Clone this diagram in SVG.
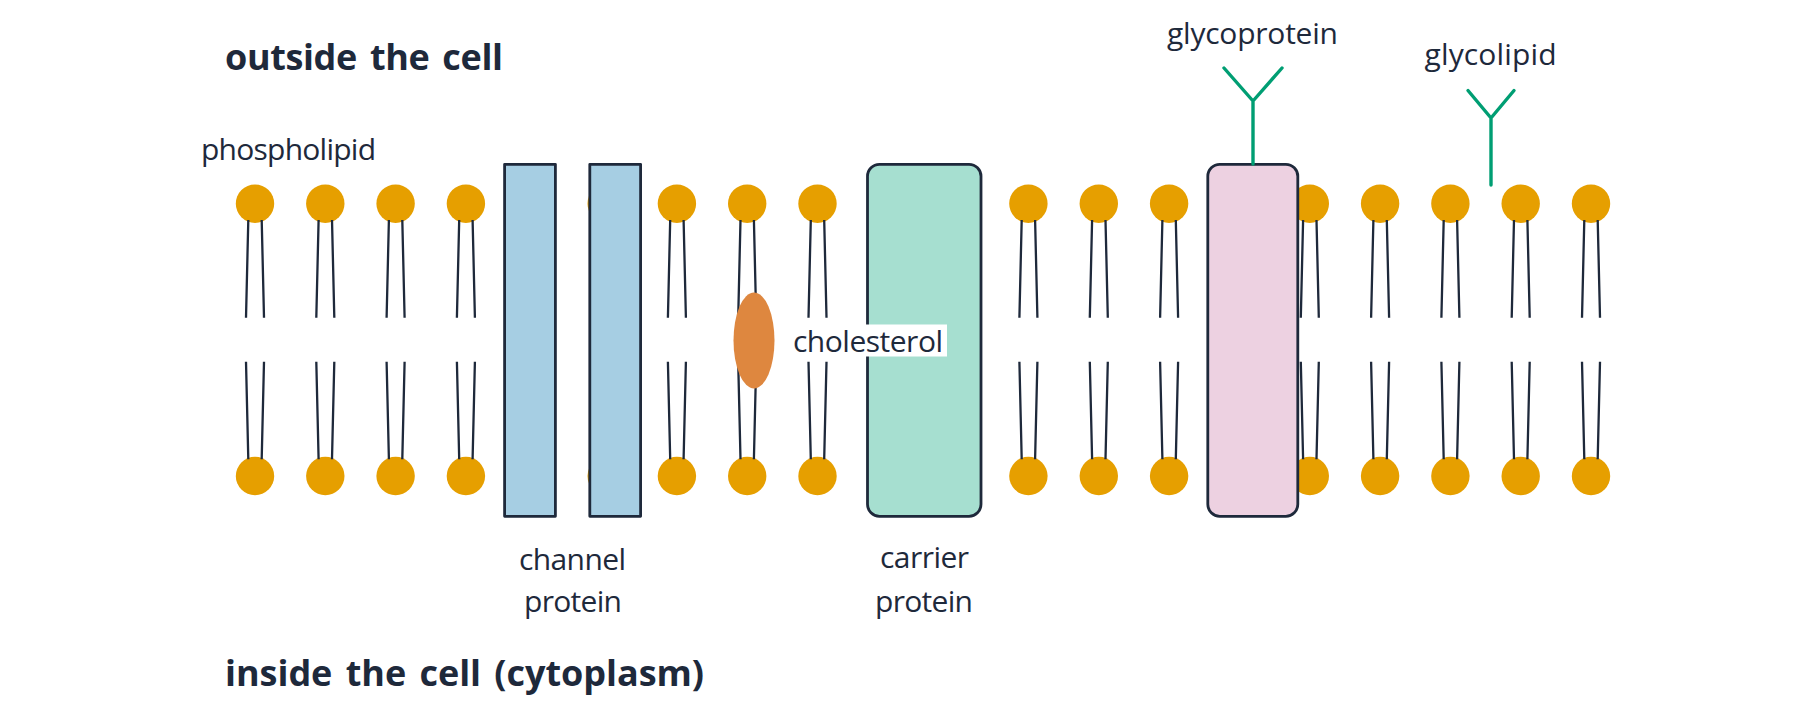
<svg xmlns="http://www.w3.org/2000/svg" width="1800" height="716" viewBox="0 0 1800 716">
<style>
text{font-family:"Open Sans","Noto Sans","Liberation Sans",sans-serif;fill:#1e293b;font-size:30px}
.title{font-weight:700;font-size:36px;word-spacing:4px}
.head{fill:#e69f00}
.tail{stroke:#1e293b;stroke-width:2.3;fill:none}
.prot{stroke:#1e293b;stroke-width:2.8;stroke-linejoin:round}
.sugar{stroke:#009e73;stroke-width:3.4;fill:none;stroke-linecap:round;stroke-linejoin:round}
</style>
<defs>
<g id="lipid">
<circle class="head" cx="0" cy="203.7" r="19.2"/>
<circle class="head" cx="0" cy="476" r="19.2"/>
<path class="tail" d="M-6.7 220L-9 317.7M6.7 220L9 317.7M-9 361.7L-6.7 459.3M9 361.7L6.7 459.3"/>
</g>
</defs>
<g id="membrane">
<g id="lipid-1" transform="translate(255,0)"><use href="#lipid"/></g>
<g id="lipid-2" transform="translate(325.3,0)"><use href="#lipid"/></g>
<g id="lipid-3" transform="translate(395.6,0)"><use href="#lipid"/></g>
<g id="lipid-4" transform="translate(465.9,0)"><use href="#lipid"/></g>
<g id="lipid-5" transform="translate(536.2,0)"><use href="#lipid"/></g>
<g id="lipid-6" transform="translate(606.7,0)"><use href="#lipid"/></g>
<g id="lipid-7" transform="translate(676.9,0)"><use href="#lipid"/></g>
<g id="lipid-8" transform="translate(747.2,0)"><use href="#lipid"/></g>
<g id="lipid-9" transform="translate(817.5,0)"><use href="#lipid"/></g>
<g id="lipid-10" transform="translate(887.8,0)"><use href="#lipid"/></g>
<g id="lipid-11" transform="translate(958.1,0)"><use href="#lipid"/></g>
<g id="lipid-12" transform="translate(1028.4,0)"><use href="#lipid"/></g>
<g id="lipid-13" transform="translate(1098.8,0)"><use href="#lipid"/></g>
<g id="lipid-14" transform="translate(1169.1,0)"><use href="#lipid"/></g>
<g id="lipid-15" transform="translate(1239.4,0)"><use href="#lipid"/></g>
<g id="lipid-16" transform="translate(1309.8,0)"><use href="#lipid"/></g>
<g id="lipid-17" transform="translate(1380.1,0)"><use href="#lipid"/></g>
<g id="lipid-18" transform="translate(1450.4,0)"><use href="#lipid"/></g>
<g id="lipid-19" transform="translate(1520.7,0)"><use href="#lipid"/></g>
<g id="lipid-20" transform="translate(1591,0)"><use href="#lipid"/></g>
</g>
<g id="channel-protein">
<rect class="prot" x="504.6" y="164.3" width="50.8" height="352" fill="#a6cee3"/>
<rect class="prot" x="589.8" y="164.3" width="50.8" height="352" fill="#a6cee3"/>
<text x="519" y="570" textLength="107">channel</text>
<text x="524" y="611.5" textLength="98">protein</text>
</g>
<g id="cholesterol">
<ellipse cx="754" cy="340.5" rx="20.5" ry="48" fill="#de873f"/>
</g>
<g id="carrier-protein">
<rect class="prot" x="867.5" y="164.3" width="113.5" height="352" rx="12" fill="#a6dfd0"/>
<text x="880" y="567.5" textLength="89">carrier</text>
<text x="875" y="611.5" textLength="98">protein</text>
</g>
<g id="cholesterol-label">
<rect x="790" y="324.5" width="157" height="32" fill="#fff"/>
<text x="793" y="351.5" textLength="150">cholesterol</text>
</g>
<g id="glycoprotein">
<rect class="prot" x="1207.8" y="164.3" width="90" height="352" rx="12" fill="#edd1e1"/>
<path class="sugar" d="M1253 164V101M1224 68L1253 101L1282 68"/>
<text x="1167" y="43.5" textLength="171">glycoprotein</text>
</g>
<g id="glycolipid">
<path class="sugar" d="M1491 185V118M1468 90.5L1491 118L1514 90.5"/>
<text x="1424.5" y="65" textLength="132">glycolipid</text>
</g>
<g id="labels">
<text x="201" y="160" textLength="175">phospholipid</text>
<text class="title" x="225" y="70" textLength="278">outside the cell</text>
<text class="title" x="225" y="686" textLength="479">inside the cell (cytoplasm)</text>
</g>
</svg>
